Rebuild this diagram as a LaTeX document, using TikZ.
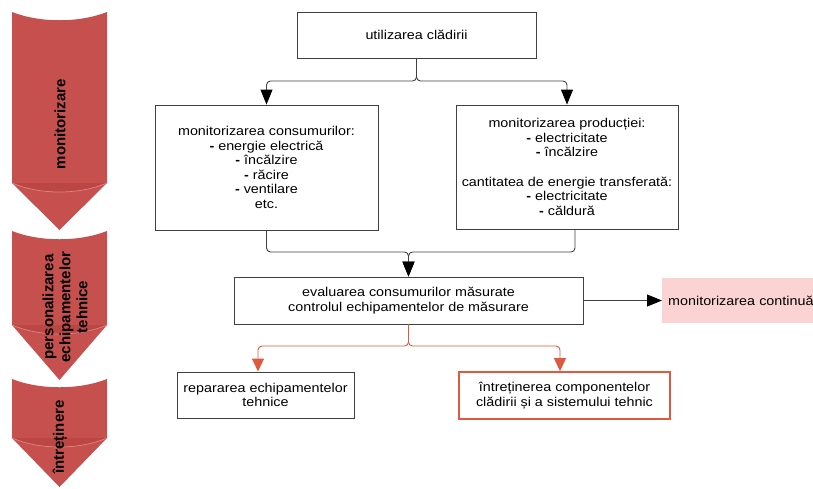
\documentclass[tikz,border=0pt]{standalone}
\usepackage{fontspec}
\setmainfont{Liberation Sans}
\newfontfamily\boxfont{Liberation Sans}[FakeStretch=1.12]
\usetikzlibrary{arrows.meta}
\definecolor{chev}{HTML}{C5504E}
\definecolor{chevdark}{HTML}{BC4644}
\definecolor{chevlight}{HTML}{DE8583}
\definecolor{lin}{HTML}{404040}
\definecolor{redl}{HTML}{E0583F}
\definecolor{pinkf}{HTML}{FCD3D3}
\tikzset{
  box/.style={draw=lin, line width=0.9pt, fill=white, align=center, inner sep=2pt,
    font=\boxfont\fontsize{12.8}{14.6}\selectfont},
  redbox/.style={box, draw=redl, line width=1.8pt},
  pinkbox/.style={fill=pinkf, align=left, inner sep=6pt,
    font=\boxfont\fontsize{12.8}{14.6}\selectfont},
  conn/.style={draw=lin, line width=0.9pt, rounded corners=4pt,
    -{Triangle[length=15pt,width=12pt,fill=black,color=black]}},
  redconn/.style={draw=redl, line width=0.9pt, rounded corners=4pt,
    -{Triangle[length=13pt,width=12pt,fill=redl]}},
  chevtext/.style={rotate=90, align=center, font=\bfseries\fontsize{15}{17}\selectfont}
}
\newcommand{\chevshape}[3]{%
  \fill[chev] (12,#1) .. controls (40,#1+11) and (79,#1+11) .. (107,#1)
     -- (107,#2) -- (59.5,#3) -- (12,#2) -- cycle;
  \fill[chevdark] (12,#2) -- (107,#2) .. controls (79,#2+12) and (40,#2+12) .. (12,#2) -- cycle;
  \draw[chevlight, line width=0.7pt] (12,#2) .. controls (40,#2+12) and (79,#2+12) .. (107,#2);
}
\begin{document}
\begin{tikzpicture}[x=1pt,y=-1pt]
\useasboundingbox (0,0) rectangle (813,488);
% left chevrons
\chevshape{12}{183}{230}
\chevshape{231}{325}{380}
\chevshape{379}{438}{487}
\node[chevtext] (c1) at (60,124) {monitorizare};
\node[chevtext] (c2) at (65,307) {personalizarea\\echipamentelor\\tehnice};
\node[chevtext] (c3) at (60,437) {întreținere};
% boxes
\node[box, minimum width=239pt, minimum height=46pt] (u) at (416.5,35) {utilizarea clădirii};
\node[box, minimum width=223pt, minimum height=125pt] (cons) at (266.5,167.5)
  {monitorizarea consumurilor:\\\textbf{-} energie electrică\\\textbf{-} încălzire\\\textbf{-} răcire\\\textbf{-} ventilare\\etc.};
\node[box, minimum width=222pt, minimum height=124pt] (prod) at (567,167)
  {monitorizarea producției:\\\textbf{-} electricitate\\\textbf{-} încălzire\\[14.6pt]cantitatea de energie transferată:\\\textbf{-} electricitate\\\textbf{-} căldură};
\node[box, minimum width=349pt, minimum height=47pt] (eval) at (408.5,300.5)
  {evaluarea consumurilor măsurate\\controlul echipamentelor de măsurare};
\node[pinkbox, text width=150pt, minimum height=45pt, anchor=west] (cont) at (662,300.5)
  {monitorizarea continuă};
\node[box, minimum width=177pt, minimum height=46pt] (rep) at (265.5,395)
  {repararea echipamentelor\\tehnice};
\node[redbox, minimum width=211pt, minimum height=47pt] (intr) at (564.5,395.5)
  {întreținerea componentelor\\clădirii și a sistemului tehnic};
% connectors
\coordinate (j1) at (416.5,81);
\coordinate (j2) at (408.5,252);
\coordinate (j3) at (408.5,346);
\draw[conn] (u.south) -- (j1) -| (cons.north);
\draw[conn] (u.south) -- (j1) -| (prod.north);
\draw[conn] (cons.south) |- (j2) -- (eval.north);
\draw[conn] ([xshift=8pt]prod.south) |- (j2) -- (eval.north);
\draw[conn] (eval.east) -- (cont.west);
\draw[redconn] (eval.south) -- (j3) -| ([xshift=-7.5pt]rep.north);
\draw[redconn] (eval.south) -- (j3) -| ([xshift=-4.5pt]intr.north);
\end{tikzpicture}
\end{document}
